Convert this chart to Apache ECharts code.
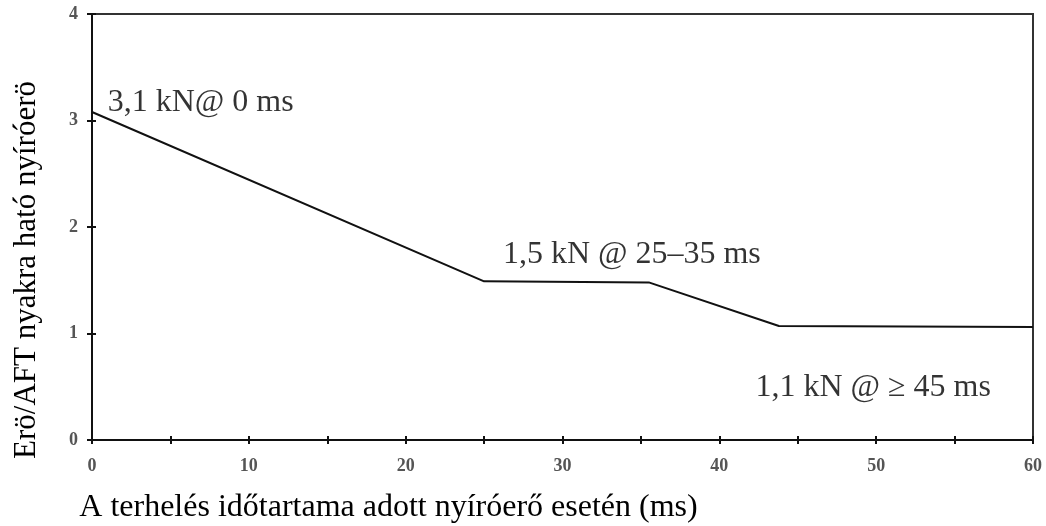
<!DOCTYPE html>
<html>
<head>
<meta charset="utf-8">
<script src="https://cdn.jsdelivr.net/npm/echarts@6/dist/echarts.min.js"></script>
<style>html,body{margin:0;padding:0;background:#fff}#c{width:1046px;height:526px}</style>
</head>
<body>
<div id="c"></div>
<script>
// Data
var timeMs = [0, 25, 35.5, 43.8, 60];
var forceKN = [3.08, 1.49, 1.48, 1.07, 1.06];
var xTickLabels = ['0', '10', '20', '30', '40', '50', '60'];
var yTickLabels = ['0', '1', '2', '3', '4'];
var annoText = ['3,1 kN@ 0 ms', '1,5 kN @ 25\u201335 ms', '1,1 kN @ \u2265 45 ms'];
var annoX = [1.0, 26.2, 42.3];
var annoY = [3.17, 1.74, 0.49];
var xName = 'A terhelés időtartama adott nyíróerő esetén (ms)';
var yName = 'Erö/AFT nyakra ható nyíróerö';

var serif = '"Liberation Serif", "DejaVu Serif", serif';
var chart = echarts.init(document.getElementById('c'));
var lineData = timeMs.map(function (t, i) { return [t, forceKN[i]]; });
var annoData = annoText.map(function (s, i) { return { value: [annoX[i], annoY[i]], name: s }; });

function xLabelFmt(v) { var s = String(v); return xTickLabels.indexOf(s) >= 0 ? s : ''; }
function yLabelFmt(v) { var s = String(v); return yTickLabels.indexOf(s) >= 0 ? s : ''; }

chart.setOption({
  animation: false,
  backgroundColor: '#fff',
  grid: { left: 92, right: 13, top: 14, bottom: 86, containLabel: false, outerBoundsMode: 'none',
          show: true, borderColor: '#333', borderWidth: 2, backgroundColor: 'transparent' },
  xAxis: [{
    type: 'value', min: 0, max: 60, interval: 5,
    name: xName, nameLocation: 'middle', nameGap: 52,
    nameTextStyle: { fontFamily: serif, fontSize: 32, color: '#000', padding: [0, 348, 0, 0] },
    axisLine: { show: true, onZero: false, lineStyle: { color: '#111', width: 2 } },
    axisTick: { show: true, length: 4, lineStyle: { color: '#111', width: 2 } },
    axisLabel: { formatter: xLabelFmt, fontFamily: serif, fontSize: 18, color: '#555', fontWeight: 'bold', margin: 17 },
    splitLine: { show: false }
  }, {
    type: 'value', min: 0, max: 60, interval: 5, position: 'bottom',
    axisLine: { show: false }, axisLabel: { show: false }, splitLine: { show: false },
    axisTick: { show: true, inside: true, length: 4, lineStyle: { color: '#111', width: 2 } }
  }],
  yAxis: [{
    type: 'value', min: 0, max: 4, interval: 1,
    name: yName, nameLocation: 'middle', nameGap: 50, nameRotate: 90,
    nameTextStyle: { fontFamily: serif, fontSize: 31, color: '#000', padding: [0, 86, 0, 0] },
    axisLine: { show: true, onZero: false, lineStyle: { color: '#111', width: 2 } },
    axisTick: { show: true, length: 5, lineStyle: { color: '#111', width: 2 } },
    axisLabel: { formatter: yLabelFmt, fontFamily: serif, fontSize: 18, color: '#555', fontWeight: 'bold', margin: 14 },
    splitLine: { show: false }
  }, {
    type: 'value', min: 0, max: 4, interval: 1, position: 'left',
    axisLine: { show: false }, axisLabel: { show: false }, splitLine: { show: false },
    axisTick: { show: true, inside: true, length: 4, lineStyle: { color: '#111', width: 2 } }
  }],
  series: [{
    type: 'line', data: lineData, showSymbol: false, symbol: 'none',
    lineStyle: { color: '#111', width: 2 }, z: 3
  }, {
    type: 'scatter', data: annoData, symbolSize: 0, silent: true,
    label: {
      show: true, position: 'right', distance: 0, formatter: '{b}',
      fontFamily: serif, fontSize: 32, color: '#000', align: 'left', verticalAlign: 'middle'
    }
  }]
});
</script>
</body>
</html>
